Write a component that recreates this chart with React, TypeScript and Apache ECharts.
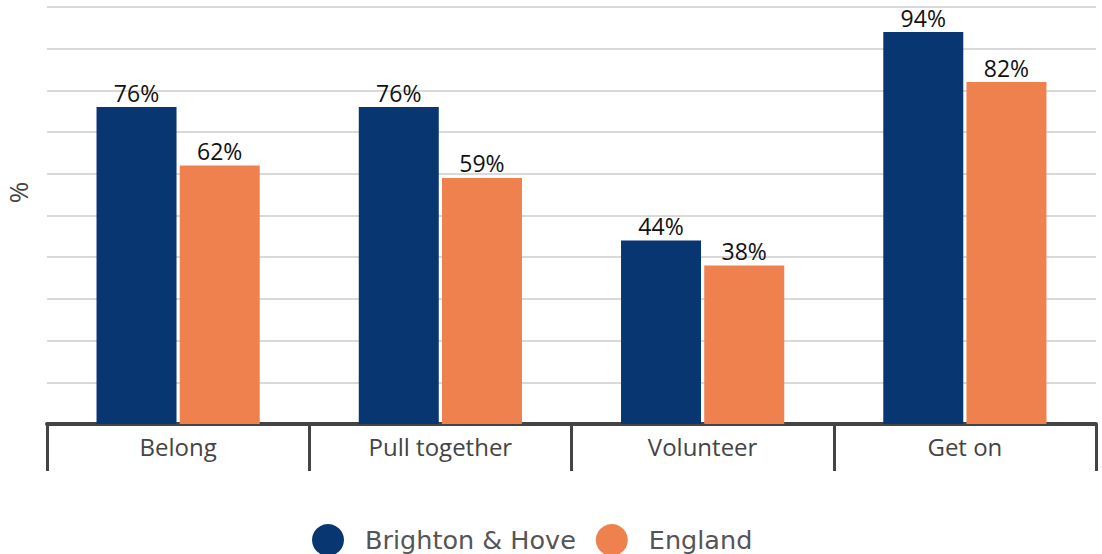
import React, { useEffect, useRef } from "react";
import * as echarts from "echarts";

const categories = ["Belong", "Pull together", "Volunteer", "Get on"];
const brightonValues = [76, 76, 44, 94];
const englandValues = [62, 59, 38, 82];
const seriesNames = ["Brighton & Hove", "England"];

export default function App() {
  const ref = useRef<HTMLDivElement>(null);
  useEffect(() => {
    const chart = echarts.init(ref.current!, null, { renderer: "svg" });
    const font = "'Open Sans', 'Noto Sans', sans-serif";
    const labelStyle = {
      show: true,
      position: "top",
      distance: 3,
      formatter: "{c}%",
      fontFamily: font,
      fontSize: 23,
      color: "#111",
    };
    chart.setOption({
      animation: false,
      grid: { left: 47, right: 6, top: 7, bottom: 130, containLabel: false, outerBoundsMode: "none" },
      legend: {
        left: 312,
        top: 524,
        padding: 0,
        icon: "circle",
        itemWidth: 32,
        itemHeight: 32,
        itemGap: 20,
        textStyle: { fontFamily: "'DejaVu Sans', sans-serif", fontSize: 25.5, color: "#555", padding: [0, 0, 0, 16] },
        data: seriesNames,
      },
      xAxis: {
        type: "category",
        data: categories,
        axisLine: { show: true, lineStyle: { color: "#444", width: 4 } },
        axisTick: { show: true, alignWithLabel: false, length: 47, lineStyle: { color: "#444", width: 3 } },
        axisLabel: { fontFamily: font, fontSize: 24, color: "#444", margin: 10 },
      },
      yAxis: {
        type: "value",
        min: 0,
        max: 100,
        interval: 10,
        name: "%",
        nameLocation: "middle",
        nameGap: 16,
        nameRotate: 90,
        nameTextStyle: { fontFamily: font, fontSize: 26, lineHeight: 26, color: "#444", padding: [0, 0, 0, 46] },
        axisLabel: { show: false },
        axisLine: { show: false },
        axisTick: { show: false },
        splitLine: { lineStyle: { color: "#d9d9d9", width: 2 } },
      },
      series: [
        {
          name: seriesNames[0],
          type: "bar",
          data: brightonValues,
          barWidth: 80,
          barGap: "4%",
          itemStyle: { color: "#083670" },
          label: labelStyle,
        },
        {
          name: seriesNames[1],
          type: "bar",
          data: englandValues,
          barWidth: 80,
          barGap: "4%",
          itemStyle: { color: "#ee814e" },
          label: labelStyle,
        },
      ],
    });
    return () => chart.dispose();
  }, []);
  return <div ref={ref} style={{ width: 1102, height: 554, position: "absolute", left: 0, top: 0 }} />;
}
